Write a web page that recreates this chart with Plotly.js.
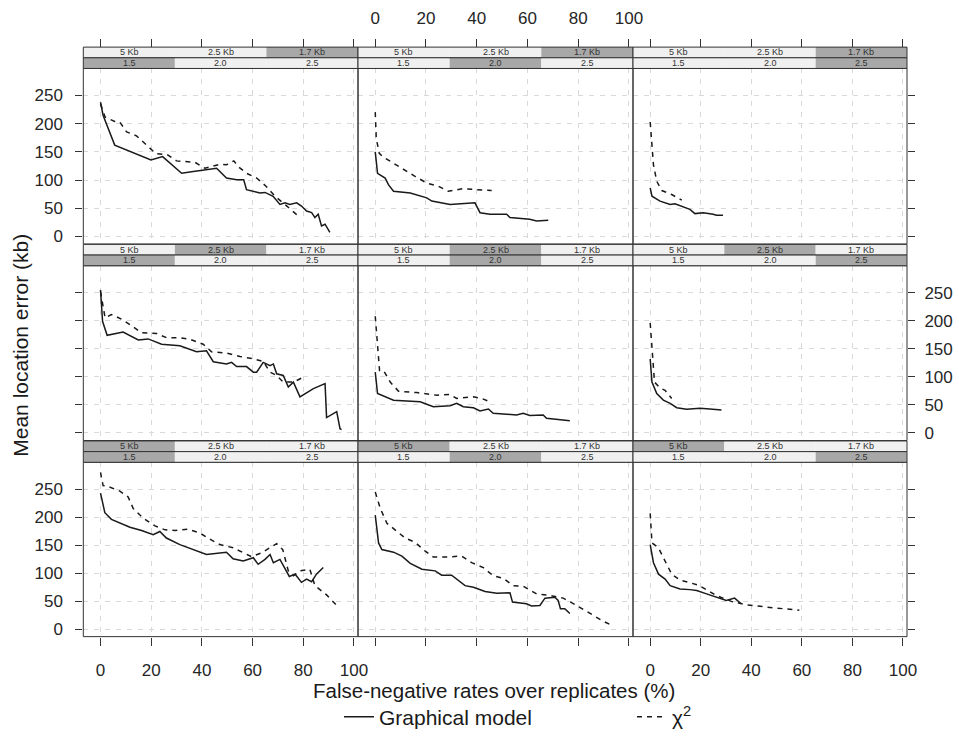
<!DOCTYPE html>
<html><head><meta charset="utf-8">
<script src="https://cdn.plot.ly/plotly-3.0.1.min.js"></script>
<style>html,body{margin:0;padding:0;background:#fff}#chart{width:959px;height:738px}</style>
</head><body><div id="chart"></div>
<script>
// ---- categories / tick labels ----
const kbLevels = ["5 Kb", "2.5 Kb", "1.7 Kb"];
const ratioLevels = ["1.5", "2.0", "2.5"];
const xTicks = [0, 20, 40, 60, 80, 100];
const yTicks = [0, 50, 100, 150, 200, 250];
const seriesNames = ["Graphical model", "χ<sup>2</sup>"];
// row 1 = 1.7 Kb, row 2 = 2.5 Kb, row 3 = 5 Kb ; columns = 1.5, 2.0, 2.5
const rowKbIndex = [2, 1, 0];
const colRatioIndex = [0, 1, 2];

// ---- data: false-negative rate (%) vs mean location error (kb) ----
const gm_r1c1_x = [0, 1.0, 5.6, 19.9, 24.5, 32, 36.6, 45.8, 49.7, 53.7, 56.5, 57.6, 62.9, 64.9, 68.1, 70.8, 72.8, 74.7, 77.4, 79.3, 81.3, 83.3, 84.6, 85.9, 87.2, 88.6, 90.5];
const gm_r1c1_y = [238, 215, 162, 135.6, 141.5, 112, 115, 121, 103.5, 100.5, 100.5, 83, 77, 78, 71, 56.7, 59.6, 56.7, 59.6, 53.8, 45, 42.1, 33.3, 39.2, 18.7, 21.6, 7];
const chi_r1c1_x = [0, 1.8, 5.6, 7.6, 10.3, 14.2, 18.2, 21.8, 26.3, 30, 37.2, 41.2, 47.1, 49.7, 52.6, 54.3, 57.6, 61.6, 65.3, 68.8, 73.2, 78];
const chi_r1c1_y = [235, 211.7, 204, 203, 185.4, 178.4, 162, 146.8, 145, 134, 131.6, 121, 128, 127, 134, 124, 112, 103.5, 89, 71.4, 55, 36.3];

const gm_r1c2_x = [0, 0.9, 3.9, 5.2, 7.2, 13.8, 20.3, 22.3, 29.5, 37.4, 39.3, 41.3, 45.2, 51.8, 53.1, 60.9, 63.6, 68.2];
const gm_r1c2_y = [150, 112, 103.5, 91.8, 80, 77, 68.4, 62.6, 56.7, 58.5, 59.6, 42, 39.2, 39.2, 33.3, 30.4, 27.5, 28.6];
const chi_r1c2_x = [0, 0.4, 1.6, 2.9, 7.2, 11.8, 15.7, 20.3, 24.9, 28.8, 34.7, 40, 45.9];
const chi_r1c2_y = [220.5, 173.7, 147.4, 141.5, 129.8, 116.4, 106.4, 94.7, 88.9, 80.1, 84.8, 83, 81.3];

const gm_r1c3_x = [0, 0.7, 3.9, 7.9, 9.8, 12.5, 15.7, 17.7, 21, 24.9, 26.2, 28.8];
const gm_r1c3_y = [86, 71.3, 62.6, 56.7, 57.9, 53.8, 47.9, 40.4, 42, 39.2, 37.4, 37.4];
const chi_r1c3_x = [0, 0.7, 1.3, 2.6, 4.6, 8.5, 12.5];
const chi_r1c3_y = [203, 150.3, 126.9, 97.7, 81.3, 74.3, 64.3];

const gm_r2c1_x = [0, 0.8, 2.6, 8.9, 14.9, 18.8, 24.1, 31.3, 37.9, 41.8, 44.5, 49.7, 51.7, 53.7, 57.6, 60.3, 61.6, 64.2, 66.9, 68.2, 69.5, 72.1, 74.1, 76.1, 78.7, 84, 88.6, 89.2, 93.2, 94.5, 95.1];
const gm_r2c1_y = [254.8, 199, 174, 179.8, 165.7, 167.6, 158.2, 155.3, 144.6, 146.4, 127, 123, 125.9, 118.3, 118.3, 108.3, 108.3, 125.8, 120, 123, 105.4, 102.5, 82, 90.6, 64.4, 79.1, 87.9, 27.5, 38, 7.6, 6];
const chi_r2c1_x = [0, 0.8, 1.8, 4.3, 8.2, 11.6, 16.2, 22.1, 26, 31.3, 35.3, 40.5, 43.8, 49.7, 55, 60.3, 64.2, 66.9, 69.5, 72.1, 76.1, 79.3];
const chi_r2c1_y = [252, 228.4, 205, 211, 203, 193, 178.6, 177.4, 169.8, 169.8, 167, 158.2, 144.6, 142.3, 136.4, 132, 127.3, 108.3, 102.5, 90.7, 90.7, 97.7];

const gm_r2c2_x = [0, 0.9, 7.2, 14.4, 17.7, 22.9, 29.5, 32.1, 34.7, 38.7, 41.3, 44.6, 46.5, 55.7, 58.3, 60.9, 66.2, 67.5, 74, 76.7];
const gm_r2c2_y = [108.3, 70.3, 58.5, 56.8, 55.6, 46.8, 48.6, 52.7, 46.8, 45, 39.2, 42.7, 35.1, 32.2, 35.1, 31, 32.2, 26.4, 23.4, 21.7];
const chi_r2c2_x = [0, 0.7, 1.3, 1.7, 3.3, 5.9, 9.2, 16.4, 24.2, 29.5, 32.1, 38.7, 42, 45.2];
const chi_r2c2_y = [208, 172.8, 131.8, 111.2, 111.2, 90.7, 74.3, 72, 67.3, 68.5, 61.5, 64.4, 61.5, 55.6];

const gm_r2c3_x = [0, 0.7, 2.6, 5.2, 7.9, 10.5, 14.4, 19.7, 23.6, 28.2];
const gm_r2c3_y = [131.8, 90.7, 70.3, 58.5, 52.7, 45, 42.2, 43.9, 42.7, 41];
const chi_r2c3_x = [0, 0.4, 0.7, 1.3, 1.7, 3.9, 5.9, 8.5];
const chi_r2c3_y = [196, 172.8, 149.3, 114.2, 90.7, 80.1, 76, 61.5];

const gm_r3c1_x = [0, 1.7, 4.3, 11.6, 16.2, 20.8, 23.4, 26, 31.3, 36.6, 41.8, 49.7, 52.3, 56.3, 60.3, 62.2, 64.9, 66.9, 68.2, 70.8, 72.8, 74.5, 76.8, 79.3, 81.3, 83.3, 85.2, 87.9];
const gm_r3c1_y = [243, 208, 196, 182, 176.2, 168.5, 174.4, 162.7, 150.9, 142.1, 133.3, 137.4, 125.7, 121.6, 127.5, 115.7, 124.5, 133.3, 118.6, 124.5, 106.9, 94, 98.1, 83.5, 89.3, 84.6, 98.1, 109.9];
const chi_r3c1_x = [0, 1, 3, 7.6, 10.9, 12.9, 16.9, 21.5, 25.5, 29.5, 34.6, 39.2, 43.1, 47.1, 52.3, 56.3, 59.6, 63.6, 66.9, 69.5, 71.9, 74.1, 76.1, 78.7, 82.6, 84.6, 89.2, 92.9, 93.8];
const chi_r3c1_y = [280, 256.5, 254.8, 246.6, 236, 215.5, 197.9, 184.3, 177.3, 176.2, 178.5, 171.5, 160.9, 151, 145.2, 136.4, 129.4, 136.4, 145.2, 152.7, 142, 104, 95.3, 104, 106.9, 77.6, 61.1, 43.5, 50.8];

const gm_r3c2_x = [0, 1.3, 2.6, 7.2, 10.5, 13.8, 18.4, 23.6, 26.2, 30.1, 35.4, 38.7, 43.3, 47.9, 53.1, 54.1, 59.6, 61.6, 64.9, 66.9, 70.8, 72.1, 73, 74.7, 76.7];
const gm_r3c2_y = [203.7, 153.9, 142.1, 137.4, 130.4, 117.5, 106.9, 104, 96.4, 96.4, 77.6, 74.7, 67.1, 64.1, 64.7, 48.2, 45.3, 41.2, 42.3, 55.3, 57, 51.2, 36.5, 36.5, 27.7];
const chi_r3c2_x = [0, 2, 4.6, 7.9, 11.8, 15.7, 19.7, 22.9, 27.5, 34.1, 38, 42.6, 46.5, 50.5, 54.4, 58.3, 63.6, 68.8, 74.1, 79.3, 84.6, 89.8, 93.1];
const chi_r3c2_y = [244.8, 215.5, 189, 177.3, 162.7, 155, 139.2, 128.7, 128.7, 130.4, 118.6, 109.9, 95.2, 90.5, 77.6, 76.5, 62.9, 60, 55.3, 42.4, 27.7, 14.2, 7.2];

const gm_r3c3_x = [0, 1.3, 3.3, 5.9, 7.9, 11.8, 15.7, 18.4, 22.3, 27.5, 30.1, 33.4, 36];
const gm_r3c3_y = [150.9, 118.6, 98.1, 89.3, 77.6, 71.7, 70.5, 68.8, 62.9, 55.3, 51.2, 55.3, 45.3];
const chi_r3c3_x = [0, 0.7, 3.3, 5.9, 8.5, 11.8, 19, 22.9, 26.2, 32.1, 38, 45.9, 52.5, 59];
const chi_r3c3_y = [206.7, 153.9, 145, 121.6, 98.1, 87.5, 78.7, 68.8, 60, 49.5, 43.5, 39.4, 36.4, 33.6];

const panels = [
  [gm_r1c1_x, gm_r1c1_y, chi_r1c1_x, chi_r1c1_y],
  [gm_r1c2_x, gm_r1c2_y, chi_r1c2_x, chi_r1c2_y],
  [gm_r1c3_x, gm_r1c3_y, chi_r1c3_x, chi_r1c3_y],
  [gm_r2c1_x, gm_r2c1_y, chi_r2c1_x, chi_r2c1_y],
  [gm_r2c2_x, gm_r2c2_y, chi_r2c2_x, chi_r2c2_y],
  [gm_r2c3_x, gm_r2c3_y, chi_r2c3_x, chi_r2c3_y],
  [gm_r3c1_x, gm_r3c1_y, chi_r3c1_x, chi_r3c1_y],
  [gm_r3c2_x, gm_r3c2_y, chi_r3c2_x, chi_r3c2_y],
  [gm_r3c3_x, gm_r3c3_y, chi_r3c3_x, chi_r3c3_y]
];

// ---- layout geometry ----
const W = 959, H = 738;
const colPx = [[83.3, 358], [358, 633], [633, 907]];
const rowPx = [[69.3, 247], [269, 446], [468, 644.5]];
const stripH = 10.8;
const fx = p => p / W, fy = p => 1 - p / H;
const FONT = "Liberation Sans, Arial, sans-serif";
const tickFont = {family: FONT, size: 17, color: "#262626"};
const lineColor = "#1a1a1a";

const traces = [];
const layout = {
  width: W, height: H,
  margin: {l: 0, r: 0, t: 0, b: 0},
  paper_bgcolor: "#fff", plot_bgcolor: "#fff",
  font: {family: FONT, color: "#262626"},
  showlegend: true,
  legend: {orientation: "h", x: fx(339), y: fy(726), xanchor: "left", yanchor: "middle",
           font: {family: FONT, size: 21, color: "#1a1a1a"}, bgcolor: "rgba(0,0,0,0)",
           entrywidth: 248, entrywidthmode: "pixels"},
  shapes: [], annotations: []
};

for (let i = 0; i < 9; i++) {
  const r = Math.floor(i / 3), c = i % 3;
  const id = i + 1;
  const xid = id === 1 ? "x" : "x" + id, yid = id === 1 ? "y" : "y" + id;
  const xa = {
    domain: [fx(colPx[c][0]), fx(colPx[c][1])], range: [-6.8, 101.6],
    tickvals: xTicks, ticktext: xTicks.map(String),
    showgrid: true, gridcolor: "#d9d9d9", griddash: "5px,6px", gridwidth: 1,
    zeroline: false, showline: false, anchor: yid, fixedrange: true,
    tickfont: tickFont, tickcolor: "#333", tickwidth: 1
  };
  if (r === 0) {
    Object.assign(xa, {side: "top", anchor: "free", position: fy(rowPx[0][0] - 2 * stripH),
      ticks: "outside", ticklen: 8, showticklabels: c === 1, ticklabelstandoff: 8});
  } else if (r === 2) {
    Object.assign(xa, {side: "bottom", ticks: "outside", ticklen: 8, showticklabels: c !== 1, ticklabelstandoff: 10});
  } else {
    Object.assign(xa, {ticks: "", showticklabels: false});
  }
  const ya = {
    domain: [fy(rowPx[r][1]), fy(rowPx[r][0])], range: [-13.5, 298],
    tickvals: yTicks, ticktext: yTicks.map(String),
    showgrid: true, gridcolor: "#d9d9d9", griddash: "5px,6px", gridwidth: 1,
    zeroline: false, showline: false, anchor: xid, fixedrange: true,
    tickfont: tickFont, tickcolor: "#333", tickwidth: 1
  };
  if (c === 0) {
    Object.assign(ya, {side: "left", ticks: "outside", ticklen: 7, showticklabels: r !== 1, ticklabelstandoff: 9});
  } else if (c === 2) {
    Object.assign(ya, {side: "right", ticks: "outside", ticklen: 7, showticklabels: r === 1, ticklabelstandoff: 6});
  } else {
    Object.assign(ya, {ticks: "", showticklabels: false});
  }
  layout["xaxis" + (id === 1 ? "" : id)] = xa;
  layout["yaxis" + (id === 1 ? "" : id)] = ya;

  const [gx, gy, cx, cy] = panels[i];
  traces.push({x: gx, y: gy, xaxis: xid, yaxis: yid, type: "scatter", mode: "lines",
    name: seriesNames[0], legendgroup: "gm", showlegend: i === 0,
    line: {color: lineColor, width: 1.5}, hoverinfo: "skip"});
  traces.push({x: cx, y: cy, xaxis: xid, yaxis: yid, type: "scatter", mode: "lines",
    name: seriesNames[1], legendgroup: "chi", showlegend: i === 0,
    line: {color: lineColor, width: 1.5, dash: "5px,5px"}, hoverinfo: "skip"});

  // panel border
  layout.shapes.push({type: "rect", xref: xid + " domain", yref: yid + " domain",
    x0: 0, x1: 1, y0: 0, y1: 1, line: {color: "#333", width: 1}, layer: "above"});

  // strips
  const top = rowPx[r][0] - 2 * stripH;
  const x0 = colPx[c][0], x1 = colPx[c][1], cw = (x1 - x0) / 3;
  const stripRows = [[kbLevels, rowKbIndex[r]], [ratioLevels, colRatioIndex[c]]];
  stripRows.forEach(([levels, hi], k) => {
    const sy0 = top + k * stripH, sy1 = sy0 + stripH;
    levels.forEach((lab, j) => {
      layout.shapes.push({type: "rect", xref: "paper", yref: "paper",
        x0: fx(x0 + j * cw), x1: fx(x0 + (j + 1) * cw), y0: fy(sy1), y1: fy(sy0),
        fillcolor: j === hi ? "#a8a8a8" : "#f0f0f0", line: {width: 0}, layer: "above"});
      layout.annotations.push({xref: "paper", yref: "paper", x: fx(x0 + (j + 0.5) * cw), y: fy((sy0 + sy1) / 2),
        text: lab, showarrow: false, font: {family: FONT, size: 9, color: "#333"}, xanchor: "center", yanchor: "middle"});
    });
    layout.shapes.push({type: "rect", xref: "paper", yref: "paper",
      x0: fx(x0), x1: fx(x1), y0: fy(sy1), y1: fy(sy0),
      fillcolor: "rgba(0,0,0,0)", line: {color: "#333", width: 1}, layer: "above"});
  });
}

// axis titles
layout.annotations.push({xref: "paper", yref: "paper", x: fx(494), y: fy(699),
  text: "False-negative rates over replicates (%)", showarrow: false,
  font: {family: FONT, size: 20.5, color: "#1a1a1a"}, xanchor: "center", yanchor: "middle", borderpad: 0});
layout.annotations.push({xref: "paper", yref: "paper", x: fx(21), y: fy(350),
  text: "Mean location error (kb)", showarrow: false, textangle: -90,
  font: {family: FONT, size: 21, color: "#1a1a1a"}, xanchor: "center", yanchor: "middle"});

Plotly.newPlot("chart", traces, layout, {displayModeBar: false, staticPlot: true});
</script>
</body></html>
